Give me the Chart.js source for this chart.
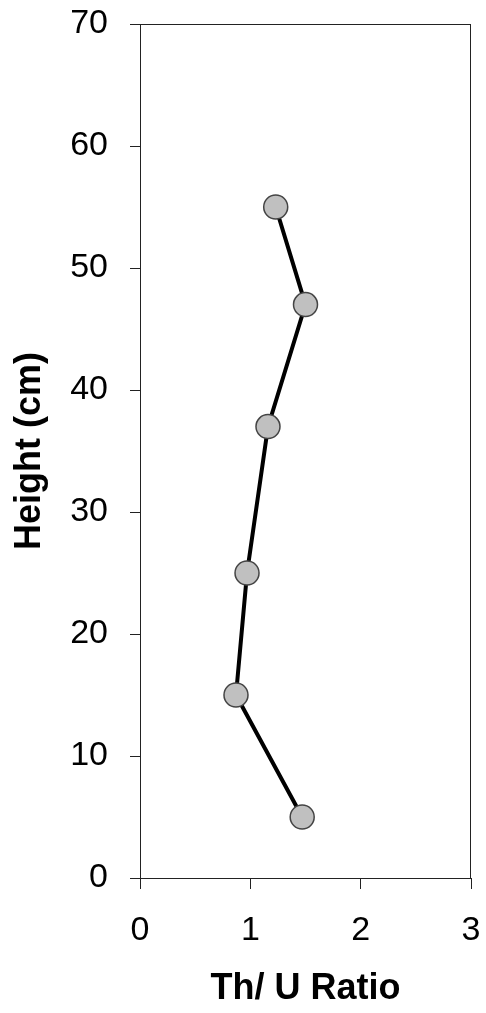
<!DOCTYPE html>
<html>
<head>
<meta charset="utf-8">
<script src="https://cdn.jsdelivr.net/npm/chart.js@4/dist/chart.umd.min.js"></script>
<style>
    body { margin: 0; background: #fff; }
    .chartBox { width: 486px; height: 1013px; }
</style>
</head>
<body>
<div class="chartBox"><canvas id="myChart"></canvas></div>
<script>
// Th/U ratio against sample height
const ratios = [1.23, 1.50, 1.16, 0.97, 0.87, 1.47];
const heights = [55, 47, 37, 25, 15, 5];
const xTicks = [0, 1, 2, 3];
const yTicks = [0, 10, 20, 30, 40, 50, 60, 70];

const points = ratios.map((r, i) => ({ x: r, y: heights[i] }));

// box round the plot area, like the old Excel frame
const plotFrame = {
    id: 'plotFrame',
    afterDraw(chart) {
        const { ctx, chartArea } = chart;
        ctx.save();
        ctx.strokeStyle = '#222';
        ctx.lineWidth = 1;
        ctx.strokeRect(chartArea.left + 0.5, chartArea.top + 0.5,
            chartArea.right - chartArea.left - 1, chartArea.bottom - chartArea.top);
        ctx.restore();
    }
};

const tickFont = { family: 'Liberation Sans, Arial, sans-serif', size: 34 };
const titleFont = { family: 'Liberation Sans, Arial, sans-serif', size: 36, weight: 'bold' };

new Chart(document.getElementById('myChart'), {
    type: 'scatter',
    data: {
        datasets: [{
            data: points,
            showLine: true,
            borderColor: '#000',
            borderWidth: 4,
            tension: 0,
            pointRadius: 12,
            pointHoverRadius: 12,
            pointBackgroundColor: '#c0c0c0',
            pointBorderColor: '#444',
            pointBorderWidth: 1.5
        }]
    },
    options: {
        responsive: true,
        maintainAspectRatio: false,
        animation: false,
        layout: { padding: { top: 24, right: 15, left: 0, bottom: 0 } },
        plugins: {
            legend: { display: false },
            tooltip: { enabled: false }
        },
        scales: {
            x: {
                type: 'linear',
                min: xTicks[0],
                max: xTicks[xTicks.length - 1],
                afterBuildTicks: s => { s.ticks = xTicks.map(v => ({ value: v })); },
                afterFit: s => { s.height = 135; s.paddingLeft = 0; s.paddingRight = 0; },
                grid: { drawOnChartArea: false, tickLength: 11, color: '#222' },
                border: { color: '#222', width: 1 },
                ticks: { color: '#000', font: tickFont, padding: 21, maxRotation: 0 },
                title: {
                    display: true,
                    text: 'Th/ U Ratio',
                    color: '#000',
                    font: titleFont,
                    padding: { top: 0, bottom: 2 }
                }
            },
            y: {
                type: 'linear',
                min: yTicks[0],
                max: yTicks[yTicks.length - 1],
                afterBuildTicks: s => { s.ticks = yTicks.map(v => ({ value: v })); },
                afterFit: s => { s.width = 140; s.paddingTop = 0; s.paddingBottom = 0; },
                grid: { drawOnChartArea: false, tickLength: 10, color: '#222' },
                border: { color: '#222', width: 1 },
                ticks: { color: '#000', font: tickFont, padding: 22 },
                title: {
                    display: true,
                    text: 'Height (cm)',
                    color: '#000',
                    font: titleFont,
                    padding: { top: 8, bottom: 0 }
                }
            }
        }
    },
    plugins: [plotFrame]
});
</script>
</body>
</html>
